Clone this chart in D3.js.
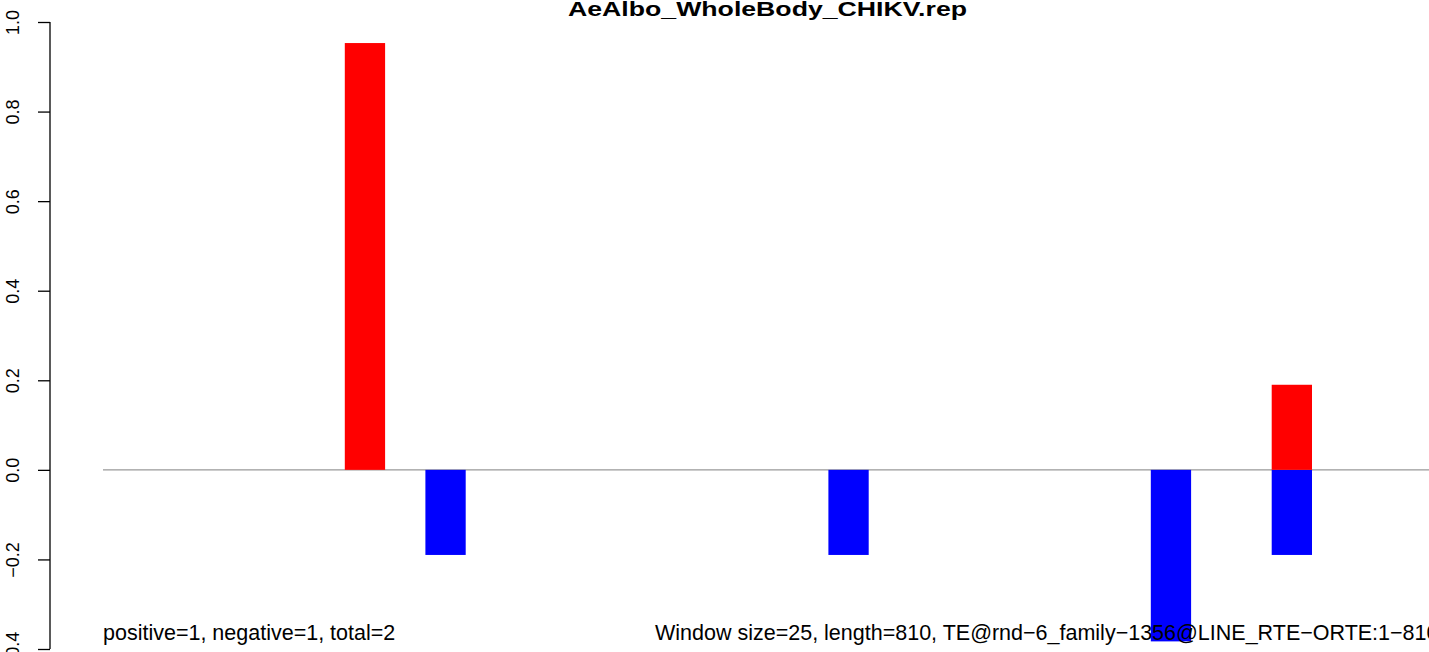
<!DOCTYPE html>
<html>
<head>
<meta charset="utf-8">
<script src="https://cdn.jsdelivr.net/npm/d3@7"></script>
<style>
  body { margin: 0; background: #fff; overflow: hidden; }
  text { font-family: "Liberation Sans", Arial, Helvetica, sans-serif; }
</style>
</head>
<body>
<svg id="chart"></svg>
<script>
// data: windows of 25 bp along the TE (start position in bp)
const title = "AeAlbo_WholeBody_CHIKV.rep";
const windowSize = 25;
const teLength = 810;
const posStarts = [150, 725];
const posValues = [0.953, 0.19];
const negStarts = [200, 450, 650, 725];
const negValues = [-0.19, -0.19, -0.383, -0.19];
const yTicks = [-0.4, -0.2, 0.0, 0.2, 0.4, 0.6, 0.8, 1.0];
const leftNote = "positive=1, negative=1, total=2";
const rightNote = "Window size=25, length=810, TE@rnd\u22126_family\u22121356@LINE_RTE\u2212ORTE:1\u2212810";

const width = 1429;
const height = 652;

const svg = d3.select('#chart')
  .attr('width', width)
  .attr('height', height);

const x = d3.scaleLinear().domain([0, teLength]).range([103, 103 + teLength * 1.612]);
const y = d3.scaleLinear().domain([-0.4, 1.0]).range([649, 22]);

// baseline
svg.append('line')
  .attr('x1', x(0)).attr('x2', x(teLength) + 40)
  .attr('y1', y(0)).attr('y2', y(0))
  .attr('stroke', '#999').attr('stroke-width', 1.3);

// bars
const bars = [
  ...negStarts.map((s, i) => ({ start: s, v: negValues[i], color: 'blue' })),
  ...posStarts.map((s, i) => ({ start: s, v: posValues[i], color: 'red' }))
];

svg.selectAll('rect.bar')
  .data(bars)
  .enter().append('rect')
  .attr('class', 'bar')
  .attr('x', d => x(d.start))
  .attr('width', d => x(d.start + windowSize) - x(d.start))
  .attr('y', d => y(Math.max(0, d.v)))
  .attr('height', d => Math.abs(y(d.v) - y(0)))
  .attr('fill', d => d.color);

// notes at the bottom, drawn over the bars
svg.append('text')
  .attr('x', 103).attr('y', 640)
  .attr('font-size', '21.5px')
  .text(leftNote);

svg.append('text')
  .attr('x', 655).attr('y', 640)
  .attr('font-size', '21.5px')
  .text(rightNote);

// y axis, R style
const axis = d3.axisLeft(y)
  .tickValues(yTicks)
  .tickSize(12)
  .tickFormat(d3.format('.1f'));

const ay = svg.append('g')
  .attr('transform', 'translate(50,0)')
  .call(axis);

ay.select('.domain')
  .attr('d', `M0,${y(-0.4)}V${y(1.0)}`)
  .attr('stroke', '#000').attr('stroke-width', 1.3);
ay.selectAll('.tick line').attr('stroke', '#000').attr('stroke-width', 1.3);
ay.selectAll('.tick text')
  .attr('x', 0).attr('dy', 0)
  .attr('transform', 'translate(-31,0) rotate(-90)')
  .attr('text-anchor', 'middle')
  .attr('font-size', '18px')
  .attr('fill', '#000')
  .text(d => d3.format('.1f')(d).replace('-', '\u2212'));

// title
svg.append('text')
  .attr('x', 568).attr('y', 16)
  .attr('font-size', '20px')
  .attr('font-weight', 'bold')
  .attr('textLength', 399)
  .attr('lengthAdjust', 'spacingAndGlyphs')
  .text(title);
</script>
</body>
</html>
